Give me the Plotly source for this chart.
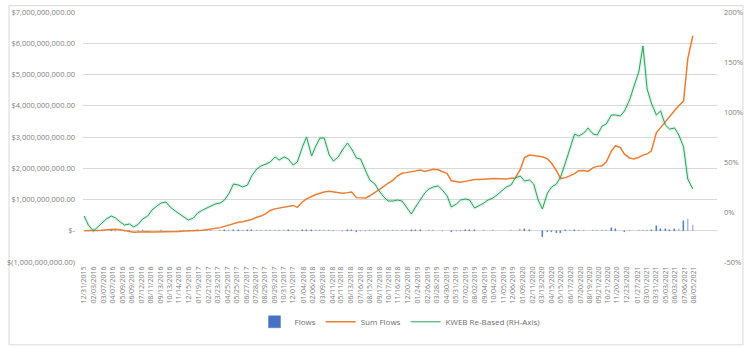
import numpy as np
import pandas as pd
import plotly.graph_objects as go

# Category labels shown along the date axis
tick_labels = [
    "12/31/2015", "02/03/2016", "03/07/2016", "04/07/2016", "05/09/2016", "06/09/2016",
    "07/12/2016", "08/11/2016", "09/13/2016", "10/13/2016", "11/14/2016", "12/15/2016",
    "01/19/2017", "02/21/2017", "03/23/2017", "04/25/2017", "05/25/2017", "06/27/2017",
    "07/28/2017", "08/29/2017", "09/29/2017", "10/31/2017", "12/01/2017", "01/04/2018",
    "02/06/2018", "03/09/2018", "04/11/2018", "05/11/2018", "06/13/2018", "07/16/2018",
    "08/15/2018", "09/17/2018", "10/17/2018", "11/16/2018", "12/20/2018", "01/24/2019",
    "02/26/2019", "03/28/2019", "04/30/2019", "05/31/2019", "07/02/2019", "08/02/2019",
    "09/04/2019", "10/04/2019", "11/05/2019", "12/06/2019", "01/09/2020", "02/11/2020",
    "03/13/2020", "04/15/2020", "05/15/2020", "06/17/2020", "07/20/2020", "08/19/2020",
    "09/21/2020", "10/21/2020", "11/20/2020", "12/23/2020", "01/27/2021", "03/01/2021",
    "03/31/2021", "05/03/2021", "06/03/2021", "07/06/2021", "08/05/2021",
]

# Semi-monthly observation dates (1st and 15th of each month)
obs_dates = pd.date_range("2016-01-01", "2021-08-01", freq="SMS")

# Daily fund flows on each observation date, $ billions
flows_bn = [
    0.00, 0.00, 0.01, 0.00, 0.01, 0.00, 0.01, 0.00, -0.01, -0.01,
    -0.01, 0.00, 0.00, 0.01, 0.00, 0.00, 0.00, 0.01, 0.00, 0.00,
    0.00, 0.00, 0.01, 0.00, 0.00, 0.01, 0.00, 0.01, 0.01, 0.00,
    0.01, 0.01, 0.02, 0.01, 0.01, 0.01, 0.02, 0.01, 0.02, 0.01,
    0.02, 0.03, 0.01, 0.01, 0.02, 0.01, 0.01, -0.02, 0.03, 0.02,
    0.02, 0.02, 0.01, 0.01, 0.01, -0.01, 0.00, -0.01, 0.01, 0.01,
    -0.03, -0.01, 0.00, 0.02, 0.02, 0.03, 0.02, 0.02, 0.03, 0.03,
    0.02, 0.01, 0.01, 0.01, 0.01, -0.01, 0.01, 0.01, -0.01, -0.01,
    -0.02, -0.04, -0.01, 0.00, 0.01, 0.01, 0.01, 0.00, 0.01, 0.00,
    0.01, 0.00, 0.00, 0.00, 0.01, 0.00, 0.05, 0.07, 0.03, -0.01,
    -0.02, -0.19, -0.03, -0.05, -0.08, -0.06, 0.01, 0.02, 0.03, 0.03,
    0.01, -0.01, 0.03, 0.02, 0.01, 0.04, 0.08, 0.05, -0.02, -0.04,
    -0.02, -0.01, 0.02, 0.02, 0.01, 0.03, 0.16, 0.06, 0.05, 0.04,
    0.07, 0.06, 0.31, 0.37, 0.18,
]

# Cumulative flows, $ billions
sum_flows_bn = [
    0.00, 0.00, 0.00, 0.01, 0.02, 0.03, 0.04, 0.05, 0.03, 0.00,
    -0.03, -0.05, -0.04, -0.03, -0.03, -0.04, -0.04, -0.03, -0.03, -0.03,
    -0.02, -0.02, -0.01, -0.01, 0.00, 0.01, 0.02, 0.04, 0.06, 0.07,
    0.10, 0.14, 0.19, 0.24, 0.27, 0.29, 0.32, 0.36, 0.43, 0.47,
    0.55, 0.65, 0.70, 0.73, 0.76, 0.79, 0.81, 0.75, 0.92, 1.02,
    1.10, 1.16, 1.20, 1.24, 1.26, 1.24, 1.22, 1.20, 1.22, 1.24,
    1.06, 1.05, 1.05, 1.12, 1.22, 1.33, 1.42, 1.52, 1.62, 1.75,
    1.84, 1.86, 1.88, 1.92, 1.94, 1.90, 1.93, 1.97, 1.95, 1.90,
    1.83, 1.60, 1.56, 1.55, 1.58, 1.61, 1.64, 1.64, 1.66, 1.66,
    1.67, 1.66, 1.66, 1.66, 1.68, 1.68, 1.96, 2.34, 2.42, 2.40,
    2.40, 2.37, 2.30, 2.16, 1.92, 1.67, 1.70, 1.76, 1.83, 1.92,
    1.93, 1.90, 2.02, 2.06, 2.08, 2.20, 2.55, 2.72, 2.66, 2.45,
    2.33, 2.30, 2.35, 2.42, 2.46, 2.55, 3.14, 3.30, 3.50, 3.65,
    3.85, 4.00, 4.15, 5.50, 6.24,
]

# KWEB price re-based to the start date, percent
kweb_rebased_pct = [
    -4, -13, -19, -15, -10, -7, -4, -6, -10, -13,
    -12, -15, -12, -7, -4, 2, 6, 9, 10, 5,
    1, -2, -5, -8, -6, -1, 2, 4, 6, 8,
    9, 12, 19, 28, 27, 25, 27, 36, 43, 46,
    48, 50, 55, 52, 55, 53, 47, 50, 65, 75,
    56, 66, 74, 74, 57, 51, 55, 62, 69, 63,
    54, 53, 41, 32, 28, 21, 15, 11, 11, 12,
    11, 5, -2, 5, 13, 19, 23, 25, 26, 22,
    16, 5, 8, 12, 13, 12, 4, 6, 9, 12,
    14, 17, 21, 25, 27, 34, 36, 31, 32, 28,
    12, 3, 19, 25, 28, 35, 50, 63, 78, 76,
    79, 84, 78, 77, 86, 88, 97, 97, 96, 101,
    112, 125, 140, 166, 123, 109, 97, 101, 87, 83,
    84, 77, 65, 33, 23,
]

left_ticks_bn = [-1, 0, 1, 2, 3, 4, 5, 6, 7]
right_ticks_pct = [-50, 0, 50, 100, 150, 200]

BLUE = "#4472C4"
ORANGE = "#ED7D31"
GREEN = "#27A35C"
GRID = "#D9D9D9"
TEXT = "#808080"
FONT = "Open Sans"


def accounting(v_bn):
    v = v_bn * 1e9
    if v == 0:
        return "$-"
    s = f"{abs(v):,.2f}"
    return f"$({s})" if v < 0 else f"${s}"


tick_dates = pd.to_datetime(tick_labels, format="%m/%d/%Y")
flows = np.array(flows_bn) * 1e9
sum_flows = np.array(sum_flows_bn) * 1e9

fig = go.Figure()

fig.add_trace(go.Bar(
    x=obs_dates, y=flows, name="Flows",
    marker=dict(color=BLUE, line=dict(color=BLUE, width=0.4)),
    width=1.2 * 86400000, yaxis="y",
))
# soft glow under the KWEB line
fig.add_trace(go.Scatter(
    x=obs_dates, y=kweb_rebased_pct, mode="lines", yaxis="y2",
    line=dict(color="rgba(70,180,115,0.16)", width=3.5),
    hoverinfo="skip", showlegend=False,
))
fig.add_trace(go.Scatter(
    x=obs_dates, y=sum_flows, mode="lines", name="Sum Flows",
    line=dict(color=ORANGE, width=1.5), yaxis="y",
))
fig.add_trace(go.Scatter(
    x=obs_dates, y=kweb_rebased_pct, mode="lines", name="KWEB Re-Based (RH-Axis)",
    line=dict(color=GREEN, width=1.0), yaxis="y2",
))

W, H = 750, 347
ml, mr, mt, mb = 76, 27, 7, 85
pw, ph = W - ml - mr, H - mt - mb

fig.update_layout(
    width=W, height=H,
    margin=dict(l=ml, r=mr, t=mt, b=mb),
    paper_bgcolor="white", plot_bgcolor="white",
    font=dict(family=FONT, size=7.5, color=TEXT),
    showlegend=True,
    legend=dict(
        orientation="h", x=0.5, xanchor="center",
        y=(mt + ph - 323) / ph, yanchor="middle",
        font=dict(family=FONT, size=8, color="#6d6d6d"),
        traceorder="normal", itemwidth=30,
    ),
    bargap=0,
    xaxis=dict(
        type="date",
        range=["2015-12-28", "2021-10-21"],
        tickmode="array", tickvals=tick_dates, ticktext=tick_labels,
        tickangle=-90, tickfont=dict(size=7, color=TEXT),
        showgrid=False, zeroline=False, showline=False, ticks="",
        ticklabelstandoff=2,
    ),
    yaxis=dict(
        range=[-1e9, 7e9],
        tickmode="array",
        tickvals=[v * 1e9 for v in left_ticks_bn],
        ticktext=[accounting(v) for v in left_ticks_bn],
        showgrid=True, gridcolor=GRID, gridwidth=1,
        zeroline=False, showline=False, ticks="",
        tickfont=dict(size=7.5, color=TEXT),
        ticklabelstandoff=7,
    ),
    yaxis2=dict(
        overlaying="y", side="right",
        range=[-50, 200],
        tickmode="array", tickvals=right_ticks_pct,
        ticktext=[f"{v}%" for v in right_ticks_pct],
        showgrid=False, zeroline=False, showline=False, ticks="",
        tickfont=dict(size=7.5, color=TEXT),
        ticklabelstandoff=6,
    ),
)

# Thin frame around the whole chart area
fig.add_shape(
    type="rect", xref="paper", yref="paper",
    x0=(0.5 - ml) / pw, x1=(W - 0.5 - ml) / pw,
    y0=-(H - mt - ph - 0.5) / ph, y1=(ph + mt - 0.5) / ph,
    line=dict(color=GRID, width=1), layer="below",
)

fig.write_html("out.html")
